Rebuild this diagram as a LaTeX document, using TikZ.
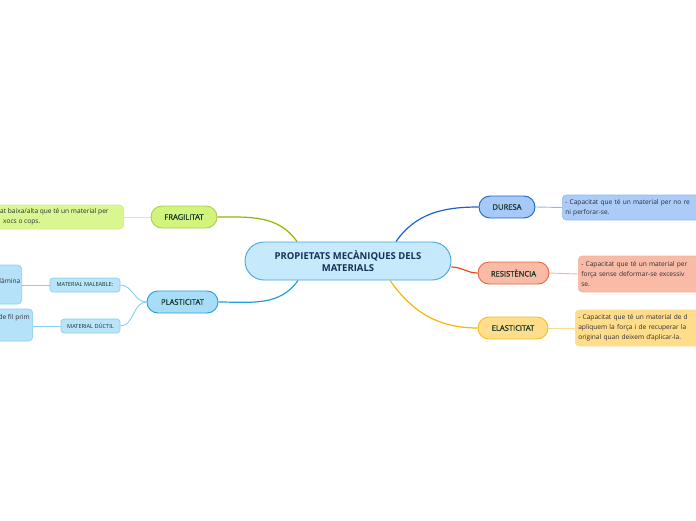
\documentclass[tikz,border=0pt]{standalone}
\usepackage{fontspec}
\setmainfont{Open Sans}
\newfontfamily\lblfont[FakeBold=0.8]{Open Sans}
\usepackage{xcolor}
\usetikzlibrary{positioning, backgrounds, calc}
\definecolor{centerfill}{HTML}{C6E9FB}
\definecolor{centerline}{HTML}{45A5DC}
\definecolor{centertext}{HTML}{15305A}
\definecolor{labeltext}{HTML}{163528}
\definecolor{detailtext}{HTML}{2E2E3A}
\definecolor{fragfill}{HTML}{D2F47E}
\definecolor{fragline}{HTML}{8DB800}
\definecolor{fragsoft}{HTML}{D6EFA0}
\definecolor{plasfill}{HTML}{A8DDF7}
\definecolor{plasline}{HTML}{1EA0E0}
\definecolor{plassoft}{HTML}{86CFF1}
\definecolor{durfill}{HTML}{A6C9F7}
\definecolor{durline}{HTML}{1B62D0}
\definecolor{dursoft}{HTML}{8FB8EE}
\definecolor{resfill}{HTML}{F9BBA6}
\definecolor{resline}{HTML}{E8481C}
\definecolor{ressoft}{HTML}{F5B49C}
\definecolor{elafill}{HTML}{FFDD8A}
\definecolor{elaline}{HTML}{F5B700}
\definecolor{elasoft}{HTML}{FBDC92}

\begin{document}
\begin{tikzpicture}[
    x=1pt, y=-1pt,
    topic/.style={
        rectangle, rounded corners=11pt, line width=0.9pt,
        minimum height=22pt, inner sep=0pt,
        font=\lblfont\fontsize{7.6}{9}\selectfont, text=labeltext
    },
    sublbl/.style={
        rectangle, rounded corners=3pt, line width=0.6pt,
        draw=plassoft, fill=plasfill!80,
        minimum height=14pt, inner sep=0pt,
        font=\fontsize{5.6}{7}\selectfont, text=labeltext
    },
    detail/.style={
        rectangle, rounded corners=4pt, line width=0.6pt,
        inner sep=3pt, align=left, anchor=west,
        font=\fontsize{6.6}{10}\selectfont, text=detailtext
    },
    txt/.style={
        inner sep=0pt, align=left,
        font=\fontsize{6.6}{10}\selectfont, text=detailtext
    },
    branch/.style={line width=1.2pt},
    twig/.style={line width=0.9pt}
]
\useasboundingbox (0,0) rectangle (696,520);

% central topic
\node[rectangle, rounded corners=19pt, draw=centerline, fill=centerfill,
      line width=0.9pt, minimum width=206pt, minimum height=38pt,
      align=center, font=\fontsize{9.5}{12}\selectfont\bfseries,
      text=centertext] (center) at (348,261)
    {PROPIETATS MECÀNIQUES DELS\\MATERIALS};

% main topics
\node[topic, draw=fragline!70, fill=fragfill, minimum width=66pt] (frag) at (184,217) {FRAGILITAT};
\node[topic, draw=plasline, fill=plasfill, minimum width=71pt] (plas) at (182.5,302) {PLASTICITAT};
\node[topic, draw=durline, fill=durfill, minimum width=56pt] (dur) at (507,207) {DURESA};
\node[topic, draw=resline!85, fill=resfill, minimum width=71pt] (res) at (513.5,273) {RESISTÈNCIA};
\node[topic, draw=elaline!90, fill=elafill, minimum width=70pt] (ela) at (513,328) {ELASTICITAT};

% sub topics of plasticitat
\node[sublbl, minimum width=70pt] (mal) at (85,285) {MATERIAL MALEABLE:};
\node[sublbl, minimum width=59pt] (duc) at (90.5,326) {MATERIAL DÚCTIL};

% details on the right
\node[detail, draw=dursoft, fill=durfill!95, text width=150pt, minimum height=25pt]
    (durdet) at (562,207.5) {- Capacitat que té un material per no re\\ni perforar-se.};
\node[detail, draw=ressoft, fill=resfill, text width=150pt, minimum height=36pt]
    (resdet) at (578,274) {- Capacitat que té un material per\\força sense deformar-se excessiv\\se.};
\node[detail, draw=elasoft, fill=elafill, text width=150pt, minimum height=36pt]
    (eladet) at (575,328) {- Capacitat que té un material de d\\apliquem la força i de recuperar la\\original quan deixem d'aplicar-la.};

% details on the left (boxes run past the edge)
\node[rectangle, rounded corners=4pt, line width=0.6pt, draw=fragsoft!90!fragline,
      fill=fragfill!85, minimum width=144pt, minimum height=24pt, anchor=east]
    (fragdet) at (124,217) {};
\node[txt, anchor=north west] (fragtxt) at ($(fragdet.north east)+(-124,3.5)$)
    {at baixa/alta que té un material per\\\hspace*{3pt}xocs o cops.};

\node[rectangle, rounded corners=4pt, line width=0.6pt, draw=plassoft,
      fill=plasfill!85, minimum width=40pt, minimum height=39pt, anchor=east]
    (maldet) at (22,284.5) {};
\node[txt, anchor=east] (maltxt) at (20.5,281) {làmina};

\node[rectangle, rounded corners=4pt, line width=0.6pt, draw=plassoft,
      fill=plasfill!85, minimum width=50pt, minimum height=32pt, anchor=east]
    (ducdet) at (33,325) {};
\node[txt, anchor=east] (ductxt) at (30,318) {de fil prim};

% connectors
\begin{scope}[on background layer]
\draw[branch, fragline] ([xshift=-51pt]center.north) to[out=125, in=0] (frag.east);
\draw[branch, plasline] ([xshift=-50pt]center.south) to[out=235, in=0] (plas.east);
\draw[branch, durline] ([xshift=48pt]center.north) to[out=55, in=180] (dur.west);
\draw[branch, resline] ([yshift=-6pt]center.east) to[out=0, in=180] (res.west);
\draw[branch, elaline] ([xshift=42pt]center.south) to[out=-55, in=180] (ela.west);

\draw[twig, plassoft] (plas.west) to[out=180, in=0] (mal.east);
\draw[twig, plassoft] (plas.west) to[out=180, in=0] (duc.east);
\draw[twig, plassoft] (mal.west) -- (mal.west -| maldet.east);
\draw[twig, plassoft] (duc.west) -- (duc.west -| ducdet.east);
\draw[twig, fragsoft] (frag.west) -- (fragdet.east);
\draw[twig, dursoft] (dur.east) -- (durdet.west);
\draw[twig, ressoft] (res.east) -- (resdet.west);
\draw[twig, elasoft] (ela.east) -- (eladet.west);
\end{scope}
\end{tikzpicture}
\end{document}
